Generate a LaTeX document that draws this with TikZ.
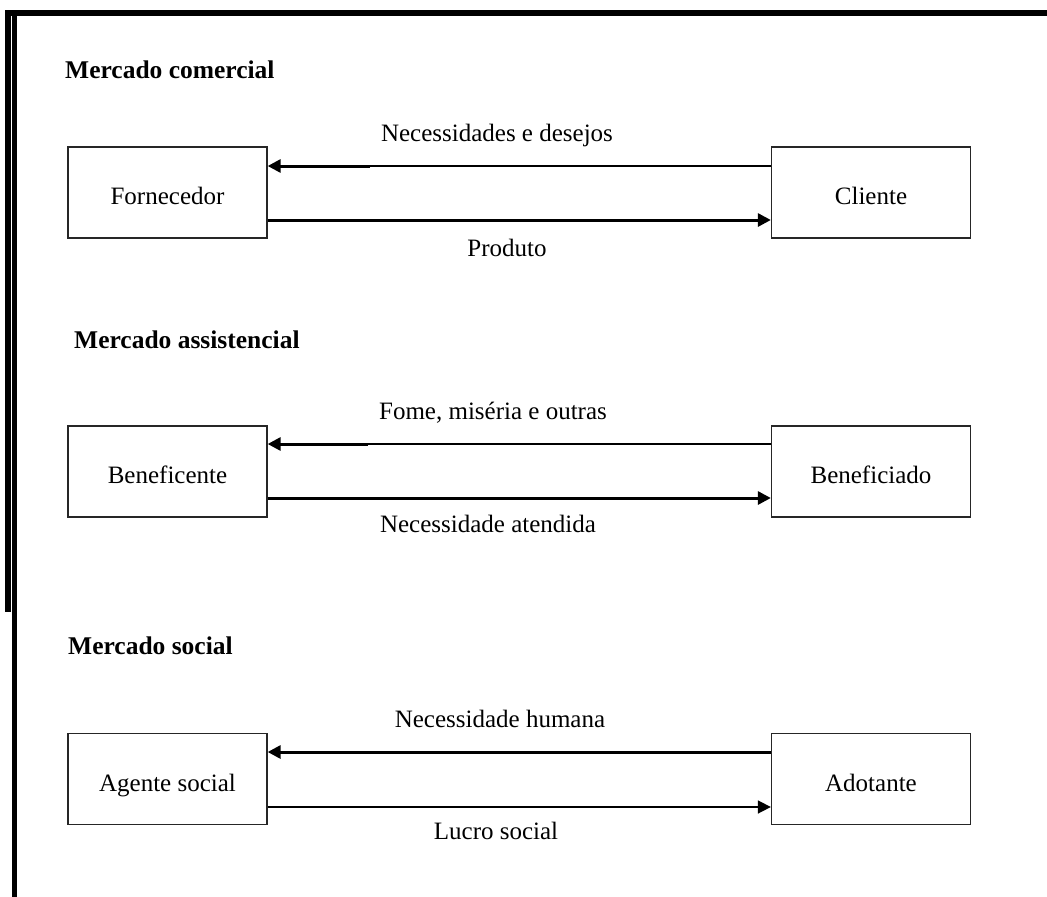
\documentclass[tikz,border=0pt]{standalone}
\usepackage{fontspec}
\setmainfont{Liberation Serif}
\usetikzlibrary{arrows.meta}
\begin{document}
\begin{tikzpicture}[x=1pt,y=-1pt,
  box/.style={draw=black!85,line width=1.3pt,minimum width=199pt,minimum height=91pt,inner sep=0pt,text height=24pt,text depth=0pt,font=\fontsize{25}{29}\selectfont},
  lbl/.style={anchor=base,inner sep=0pt,font=\fontsize{25}{29}\selectfont},
  head/.style={anchor=base west,inner sep=0pt,font=\fontsize{25.5}{29}\selectfont\bfseries},
  thickarr/.style={line width=3pt,-{Triangle[length=13pt,width=13pt]}},
  thinarr/.style={line width=1.6pt,-{Triangle[length=13pt,width=13pt]}},
  thickln/.style={line width=3pt},
  thinln/.style={line width=1.6pt}]
\useasboundingbox (0,0) rectangle (1047,897);
% frame
\fill (5,10) rectangle (1047,16);
\fill (5,10) rectangle (11,612);
\fill (12,10) rectangle (17,897);
% headings
\node[head] (h1) at (65,78) {Mercado comercial};
\node[head] (h2) at (74,348) {Mercado assistencial};
\node[head] (h3) at (68,654) {Mercado social};
% boxes
\node[box] (forn) at (167.5,192.5) {Fornecedor};
\node[box] (cli) at (871,192.5) {Cliente};
\node[box] (bene) at (167.5,471.5) {Beneficente};
\node[box] (benf) at (871,471.5) {Beneficiado};
\node[box] (agen) at (167.5,779) {Agente social};
\node[box] (adot) at (871,779) {Adotante};
% section 1
\coordinate (m1) at (370,166);
\draw[thinln] ([yshift=26.5pt]cli.west) -- (m1);
\draw[thickarr] (m1) -- ([yshift=26.5pt]forn.east);
\draw[thickarr] ([yshift=-27.5pt]forn.east) -- ([yshift=-27.5pt]cli.west);
\node[lbl] (l1) at (497,141) {Necessidades e desejos};
\node[lbl] (l2) at (507,256) {Produto};
% section 2
\coordinate (m2) at (368,444);
\draw[thinln] ([yshift=27.5pt]benf.west) -- (m2);
\draw[thickarr] (m2) -- ([yshift=27.5pt]bene.east);
\draw[thickarr] ([yshift=-26.5pt]bene.east) -- ([yshift=-26.5pt]benf.west);
\node[lbl] (l3) at (493,419) {Fome, miséria e outras};
\node[lbl] (l4) at (488,532) {Necessidade atendida};
% section 3
\draw[thickarr] ([yshift=27pt]adot.west) -- ([yshift=27pt]agen.east);
\draw[thinarr] ([yshift=-28pt]agen.east) -- ([yshift=-28pt]adot.west);
\node[lbl] (l5) at (500,727) {Necessidade humana};
\node[lbl] (l6) at (496,839) {Lucro social};
\end{tikzpicture}
\end{document}
